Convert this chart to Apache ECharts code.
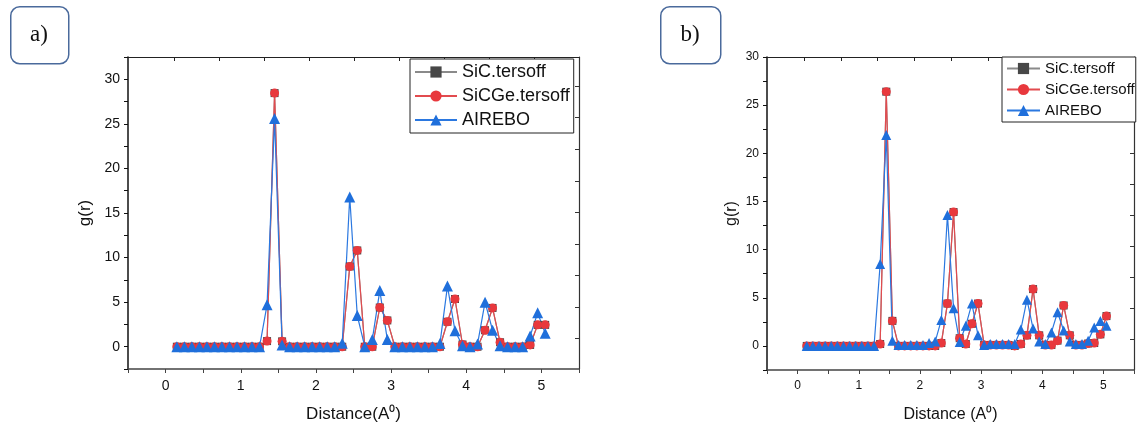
<!DOCTYPE html>
<html>
<head>
<meta charset="utf-8">
<script src="https://cdn.jsdelivr.net/npm/echarts@6/dist/echarts.min.js"></script>
<style>
html, body { margin: 0; padding: 0; background: #fff; }
#main { width: 1137px; height: 428px; }
</style>
</head>
<body>
<div id="main"></div>
<script>
// distance values (A^0), shared by both panels
var distance = [0.15, 0.25, 0.35, 0.45, 0.55, 0.65, 0.75, 0.85, 0.95, 1.05,
  1.15, 1.25, 1.35, 1.45, 1.55, 1.65, 1.75, 1.85, 1.95, 2.05,
  2.15, 2.25, 2.35, 2.45, 2.55, 2.65, 2.75, 2.85, 2.95, 3.05,
  3.15, 3.25, 3.35, 3.45, 3.55, 3.65, 3.75, 3.85, 3.95, 4.05,
  4.15, 4.25, 4.35, 4.45, 4.55, 4.65, 4.75, 4.85, 4.95, 5.05];

// panel a)
var sicA = [0, 0, 0, 0, 0, 0, 0, 0, 0, 0, 0, 0, 0.63, 28.45, 0.6, 0, 0, 0, 0, 0,
  0, 0, 0, 9.0, 10.8, 0, 0, 4.4, 2.95, 0, 0, 0, 0, 0, 0, 0, 2.8, 5.35, 0.25, 0,
  0, 1.85, 4.35, 0.5, 0, 0, 0, 0.2, 2.45, 2.45];
var sicgeA = [0, 0, 0, 0, 0, 0, 0, 0, 0, 0, 0, 0, 0.63, 28.45, 0.6, 0, 0, 0, 0, 0,
  0, 0, 0, 9.0, 10.8, 0, 0, 4.4, 2.95, 0, 0, 0, 0, 0, 0, 0, 2.8, 5.35, 0.25, 0,
  0, 1.85, 4.35, 0.5, 0, 0, 0, 0.2, 2.45, 2.45];
var airboA = [0, 0, 0, 0, 0, 0, 0, 0, 0, 0, 0, 0, 4.7, 25.6, 0.2, 0, 0, 0, 0, 0,
  0, 0, 0.4, 16.8, 3.5, 0, 0.8, 6.3, 0.8, 0, 0, 0, 0, 0, 0, 0.35, 6.8, 1.8, 0.1, 0,
  0.3, 5.0, 1.85, 0.1, 0, 0, 0, 1.2, 3.8, 1.5];

// panel b)
var sicB = [0, 0, 0, 0, 0, 0, 0, 0, 0, 0, 0, 0, 0.2, 26.4, 2.6, 0, 0, 0, 0, 0,
  0, 0, 0.3, 4.4, 13.9, 0.8, 0.2, 2.3, 4.4, 0.1, 0.1, 0.1, 0.1, 0.1, 0, 0.2, 1.1, 5.9, 1.1, 0.1,
  0.1, 0.55, 4.2, 1.1, 0.1, 0.1, 0.25, 0.3, 1.2, 3.1];
var sicgeB = [0, 0, 0, 0, 0, 0, 0, 0, 0, 0, 0, 0, 0.2, 26.4, 2.6, 0, 0, 0, 0, 0,
  0, 0, 0.3, 4.4, 13.9, 0.8, 0.2, 2.3, 4.4, 0.1, 0.1, 0.1, 0.1, 0.1, 0, 0.2, 1.1, 5.9, 1.1, 0.1,
  0.1, 0.55, 4.2, 1.1, 0.1, 0.1, 0.25, 0.3, 1.2, 3.1];
var airboB = [0, 0, 0, 0, 0, 0, 0, 0, 0, 0, 0, 0, 8.5, 21.9, 0.55, 0.1, 0.1, 0.1, 0.1, 0.1,
  0.3, 0.45, 2.7, 13.6, 3.9, 0.4, 2.1, 4.4, 1.1, 0.1, 0.2, 0.2, 0.2, 0.2, 0.2, 1.7, 4.8, 1.8, 0.45, 0.2,
  1.4, 3.5, 1.6, 0.45, 0.2, 0.2, 0.55, 1.9, 2.6, 2.1];

var seriesNames = ['SiC.tersoff', 'SiCGe.tersoff', 'AIREBO'];

// ticks on the top and right frame (they come from another layer in the original)
var topTicks = [0.11, 0.71, 1.31, 1.91, 2.51, 3.11, 3.71, 4.31, 4.91];
var rightTicksA = [0.9, 4.43, 7.97, 11.5, 15.05, 18.6, 22.1, 25.7, 29.2];
var rightTicksB = [0.72, 3.94, 7.16, 10.4, 13.6, 16.8, 20.04, 23.3, 26.5, 29.7];

function pairs(xs, ys) {
  return xs.map(function (x, i) { return [x, ys[i]]; });
}

var font = 'Liberation Sans, Arial, sans-serif';

function bottomAxis(grid, name, size, labelSize) {
  return {
    type: 'value', gridIndex: grid, position: 'bottom',
    min: -0.5, max: 5.5, interval: 0.5,
    name: name, nameLocation: 'middle', nameGap: 37,
    nameTextStyle: { fontFamily: font, fontSize: size, color: '#111' },
    axisLine: { onZero: false, lineStyle: { color: '#444', width: 1.5 } },
    axisTick: { length: 4, lineStyle: { color: '#444' } },
    axisLabel: {
      fontFamily: font, fontSize: labelSize, color: '#111', margin: 10,
      formatter: function (v) { return (Math.abs(v - Math.round(v)) < 1e-6) ? String(Math.round(v)) : ''; }
    },
    splitLine: { show: false }
  };
}

function topAxis(grid) {
  return {
    type: 'value', gridIndex: grid, position: 'top',
    min: -0.5, max: 5.5,
    axisLine: { onZero: false, lineStyle: { color: '#222', width: 1.2 } },
    axisTick: { inside: true, length: 4, customValues: topTicks, lineStyle: { color: '#222' } },
    axisLabel: { show: false },
    splitLine: { show: false }
  };
}

function leftAxis(grid, max, gap, size, labelSize) {
  return {
    type: 'value', gridIndex: grid, position: 'left',
    min: -2.5, max: max, interval: 2.5,
    name: 'g(r)', nameLocation: 'middle', nameGap: gap, nameRotate: 90,
    nameTextStyle: { fontFamily: font, fontSize: size, color: '#111' },
    axisLine: { show: true, onZero: false, lineStyle: { color: '#111', width: 1.5 } },
    axisTick: { show: true, length: 4, lineStyle: { color: '#111' } },
    axisLabel: {
      fontFamily: font, fontSize: labelSize, color: '#111', margin: 8,
      formatter: function (v) { return (Math.abs(v % 5) < 1e-6 && v >= 0) ? String(v) : ''; }
    },
    splitLine: { show: false }
  };
}

function rightAxis(grid, max, ticks) {
  return {
    type: 'value', gridIndex: grid, position: 'right',
    min: -2.5, max: max,
    axisLine: { show: true, onZero: false, lineStyle: { color: '#333', width: 1.2 } },
    axisTick: { show: true, inside: true, length: 4, customValues: ticks, lineStyle: { color: '#333' } },
    axisLabel: { show: false },
    splitLine: { show: false }
  };
}

function makeSeries(name, grid, ys, symbol, size, color, lineColor) {
  return {
    name: name, type: 'line',
    xAxisIndex: grid * 2, yAxisIndex: grid * 2,
    data: pairs(distance, ys),
    symbol: symbol, symbolSize: size,
    itemStyle: { color: color },
    lineStyle: { color: lineColor, width: 1.2 },
    emphasis: { disabled: true },
    animation: false
  };
}

function legendFor(left, top, itemWidth, fontSize, padRight) {
  return {
    orient: 'vertical', left: left, top: top,
    data: seriesNames,
    itemWidth: itemWidth, itemHeight: 14, itemGap: 6,
    padding: [4, padRight, 4, 4],
    borderColor: '#222', borderWidth: 1, borderRadius: 0,
    backgroundColor: '#fff',
    textStyle: { fontFamily: font, fontSize: fontSize, color: '#111', padding: [0, 0, 0, 0] }
  };
}

var chart = echarts.init(document.getElementById('main'), null, { renderer: 'canvas' });

var option = {
  backgroundColor: '#fff',
  animation: false,
  grid: [
    { left: 128, top: 57, width: 451, height: 317 },
    { left: 767, top: 57, width: 368, height: 316 }
  ],
  xAxis: [
    bottomAxis(0, 'Distance(A\u2070)', 17, 14),
    topAxis(0),
    bottomAxis(1, 'Distance (A\u2070)', 16, 12),
    topAxis(1)
  ],
  yAxis: [
    leftAxis(0, 32.5, 34, 17, 14),
    rightAxis(0, 32.5, rightTicksA),
    leftAxis(1, 30, 27, 16, 12),
    rightAxis(1, 30, rightTicksB)
  ],
  legend: [
    legendFor(410, 59, 42, 18, 4),
    legendFor(1002, 57, 33, 15, 1)
  ],
  graphic: [
    { type: 'rect', left: 10, top: 6, shape: { width: 58, height: 57, r: 9 },
      style: { fill: '#fff', stroke: '#4a6a9c', lineWidth: 1.5 } },
    { type: 'text', x: 39, y: 35,
      style: { text: 'a)', font: '23px "Liberation Serif", "DejaVu Serif", serif', fill: '#111', align: 'center', verticalAlign: 'middle' } },
    { type: 'rect', left: 660, top: 6, shape: { width: 60, height: 57, r: 9 },
      style: { fill: '#fff', stroke: '#4a6a9c', lineWidth: 1.5 } },
    { type: 'text', x: 690, y: 35,
      style: { text: 'b)', font: '23px "Liberation Serif", "DejaVu Serif", serif', fill: '#111', align: 'center', verticalAlign: 'middle' } }
  ],
  series: [
    makeSeries(seriesNames[0], 0, sicA, 'rect', 8, '#474747', '#8a8a8a'),
    makeSeries(seriesNames[1], 0, sicgeA, 'circle', 9, '#e8383d', '#e24b4f'),
    makeSeries(seriesNames[2], 0, airboA, 'triangle', 11, '#1f6fdb', '#2b78e0'),
    makeSeries(seriesNames[0], 1, sicB, 'rect', 8, '#474747', '#8a8a8a'),
    makeSeries(seriesNames[1], 1, sicgeB, 'circle', 9, '#e8383d', '#e24b4f'),
    makeSeries(seriesNames[2], 1, airboB, 'triangle', 10, '#1f6fdb', '#2b78e0')
  ]
};

chart.setOption(option);
</script>
</body>
</html>
